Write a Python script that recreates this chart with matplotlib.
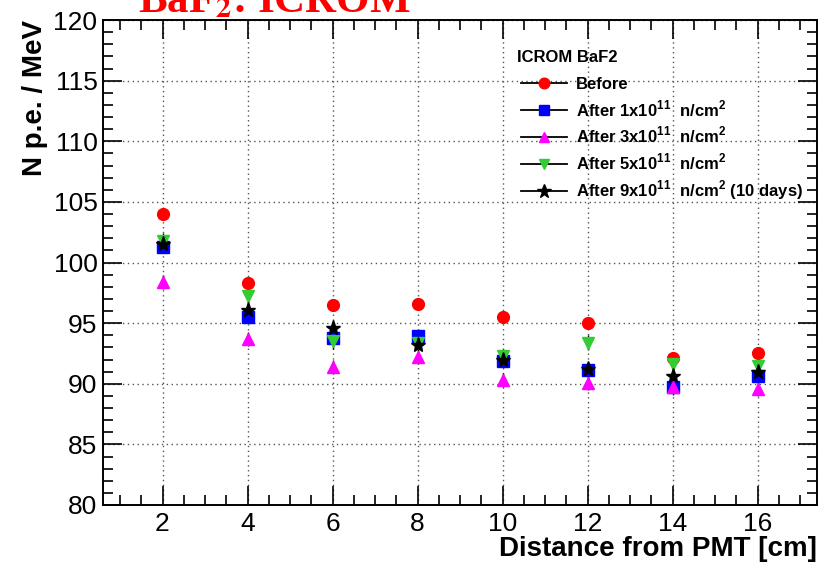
import matplotlib
matplotlib.use("Agg")
import matplotlib.pyplot as plt
from matplotlib.lines import Line2D
from matplotlib.ticker import MultipleLocator

plt.rcParams['font.family'] = ['Liberation Sans', 'DejaVu Sans']
plt.rcParams['mathtext.fontset'] = 'custom'
plt.rcParams['mathtext.rm'] = 'Liberation Sans'
plt.rcParams['mathtext.bf'] = 'Liberation Sans:bold'

distance = [2, 4, 6, 8, 10, 12, 14, 16]

before = [104.0, 98.3, 96.5, 96.6, 95.5, 95.0, 92.1, 92.5]
after_1e11 = [101.3, 95.5, 93.8, 93.9, 91.9, 91.1, 89.7, 90.6]
after_3e11 = [98.4, 93.7, 91.4, 92.2, 90.3, 90.1, 89.7, 89.6]
after_5e11 = [101.8, 97.2, 93.5, 93.4, 92.3, 93.4, 91.6, 91.5]
after_9e11 = [101.5, 96.1, 94.6, 93.2, 92.0, 91.2, 90.6, 91.0]

err_before = [0.35, 0.35, 0.35, 0.35, 0.35, 0.35, 0.35, 0.35]
err_1e11 = [0.45, 0.45, 0.45, 0.45, 0.45, 0.45, 0.45, 0.45]
err_3e11 = [0.6, 0.6, 0.6, 0.6, 0.6, 0.6, 0.6, 0.6]
err_5e11 = [0.6, 0.6, 0.6, 0.6, 0.6, 0.6, 0.6, 0.6]
err_9e11 = [0.5, 0.5, 0.5, 0.5, 0.5, 0.5, 0.5, 0.5]

legend_title = "ICROM BaF2"
labels = [
    "Before",
    r"After 1x10$^{\mathbf{11}}$  n/cm$^{\mathbf{2}}$",
    r"After 3x10$^{\mathbf{11}}$  n/cm$^{\mathbf{2}}$",
    r"After 5x10$^{\mathbf{11}}$  n/cm$^{\mathbf{2}}$",
    r"After 9x10$^{\mathbf{11}}$  n/cm$^{\mathbf{2}}$ (10 days)",
]

series = [before, after_1e11, after_3e11, after_5e11, after_9e11]
errors = [err_before, err_1e11, err_3e11, err_5e11, err_9e11]
colors = ['#ff0000', '#0000ff', '#ff00ff', '#33cc33', '#000000']
markers = ['o', 's', '^', 'v', '*']
sizes = [8.5, 8, 8, 8, 11]

fig = plt.figure(figsize=(8.19, 5.63), dpi=100)
ax = fig.add_axes([103 / 819, 1 - 505 / 563, (817 - 103) / 819, (505 - 20) / 563])

for y, e, c, m, s in zip(series, errors, colors, markers, sizes):
    ax.errorbar(distance, y, yerr=e, fmt=m, color=c, mfc=c, mec=c, ms=s,
                ecolor='black', elinewidth=1.0, capsize=0, zorder=3)

ax.set_xlim(0.6, 17.4)
ax.set_ylim(80, 120)
ax.xaxis.set_major_locator(MultipleLocator(2))
ax.xaxis.set_minor_locator(MultipleLocator(0.5))
ax.yaxis.set_major_locator(MultipleLocator(5))
ax.yaxis.set_minor_locator(MultipleLocator(1))
ax.tick_params(which='both', direction='in', top=True, right=True, width=1.2,
               labelsize=19, colors='black')
ax.tick_params(axis='x', which='major', length=14, pad=5)
ax.tick_params(axis='x', which='minor', length=7)
ax.tick_params(axis='y', which='major', length=14, pad=4)
ax.tick_params(axis='y', which='minor', length=7)
for sp in ax.spines.values():
    sp.set_linewidth(1.4)

ax.grid(True, which='major', linestyle=(0, (1, 2.5)), color='#555555', linewidth=1.0)
ax.set_axisbelow(True)

ax.set_xlabel("Distance from PMT [cm]", fontsize=20, fontweight='bold', loc='right', labelpad=0)
ax.set_ylabel("N p.e. / MeV", fontsize=20, fontweight='bold', loc='top', labelpad=4)

handles = [Line2D([], [], color='black', lw=1.3, marker=m, mfc=c, mec=c, ms=s * 0.9)
           for c, m, s in zip(colors, markers, sizes)]
leg = ax.legend(handles, labels, loc='upper left',
                bbox_to_anchor=(0.585, 0.882), frameon=False, fontsize=12,
                handlelength=2.8, handletextpad=0.5, labelspacing=0.37,
                borderaxespad=0, borderpad=0)
for t in leg.get_texts():
    t.set_fontweight('bold')

fig.text(517 / 819, 1 - 58 / 563, legend_title, fontsize=12, fontweight='bold',
         ha='left', va='center')

fig.text(274 / 819, 1 - 12 / 563, r"BaF$_\mathbf{2}$: ICROM", color='#ff0000',
         fontsize=31, fontweight='bold', family='Liberation Serif',
         math_fontfamily='stix', ha='center', va='baseline')

fig.savefig("out.png", dpi=100)
